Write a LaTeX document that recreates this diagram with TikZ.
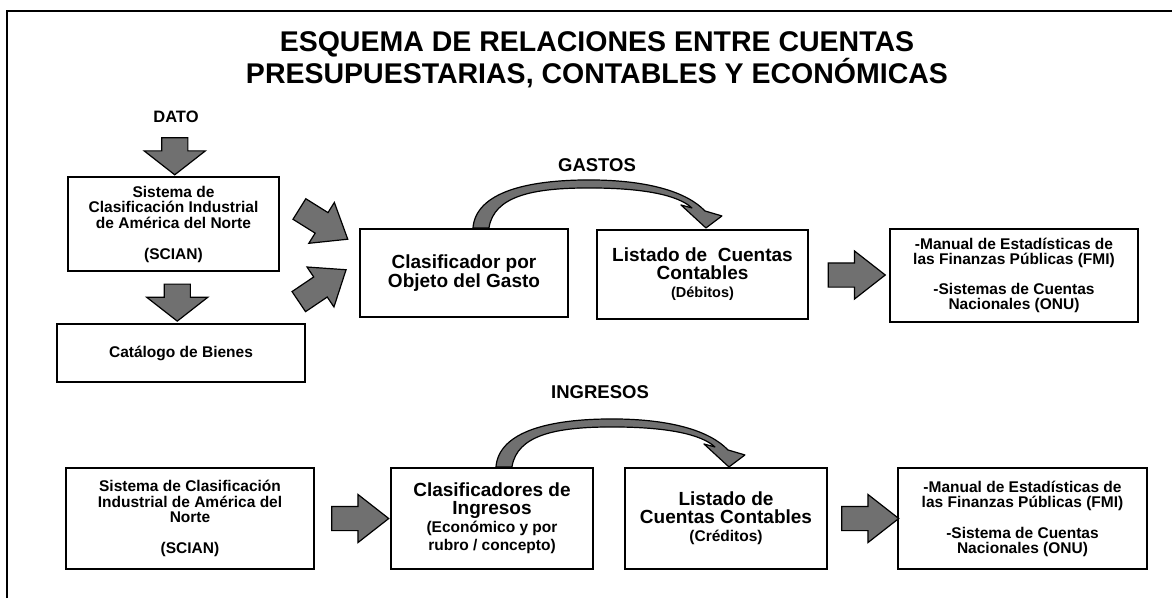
\documentclass[tikz,border=0pt]{standalone}
\usepackage{fontspec}
\setmainfont{Liberation Sans}
\usetikzlibrary{shapes.arrows,calc,positioning}
\definecolor{flechagris}{RGB}{112,112,112}

\newcommand{\letrachica}{\fontsize{15.5}{15.5}\selectfont\bfseries}
\newcommand{\letragrande}{\fontsize{19}{18}\selectfont\bfseries}

\begin{document}
\begin{tikzpicture}[x=1pt,y=-1pt,
    caja/.style={draw,line width=2.1pt,align=center,inner sep=0pt},
    flecha/.style={single arrow,draw,fill=flechagris,line width=1.2pt,
      inner xsep=0pt,inner ysep=11.5pt,
      minimum height=57pt,minimum width=47pt,
      single arrow head extend=12pt,single arrow tip angle=76},
    flechabaja/.style={flecha,rotate=-90,inner ysep=12.5pt,minimum height=37pt,minimum width=60pt,
      single arrow head extend=17.5pt,single arrow tip angle=104},
    curva/.pic={
      \draw[fill=flechagris,line width=1.2pt,line join=round]
        (0,0) .. controls (3,-36) and (55,-48) .. (116,-48)
        .. controls (175,-48) and (214,-36) .. (232,-17)
        -- (249,-12) -- (233,0) -- (208,-23) -- (219,-20)
        .. controls (205,-33) and (170,-40) .. (116,-40)
        .. controls (60,-40) and (21,-32) .. (16,0) -- cycle;
    }]
  \useasboundingbox (0,0) rectangle (1172,598);
  % marco
  \draw[line width=2pt] (7,598) -- (7,11) -- (1172,11);

  % titulo
  \node[align=center,font=\fontsize{28.5}{24}\selectfont\bfseries] (titulo) at (597,60)
    {ESQUEMA DE RELACIONES ENTRE CUENTAS\\PRESUPUESTARIAS, CONTABLES Y ECONÓMICAS};

  % Gastos
  \node[font=\fontsize{16.5}{16.5}\selectfont\bfseries] (dato) at (176,117) {DATO};
  \node[caja,minimum width=211pt,minimum height=94pt,font=\letrachica] (scian1) at (173.5,224)
    {Sistema de\\Clasificación Industrial\\de América del Norte\\[15.5pt](SCIAN)};
  \node[caja,minimum width=248pt,minimum height=58pt,font=\letrachica] (catalogo) at (181,353)
    {Catálogo de Bienes};
  \node[caja,minimum width=208pt,minimum height=88pt,font=\fontsize{19}{17.5}\selectfont\bfseries] (clas1) at (464,273)
    {Clasificador por\\Objeto del Gasto};
  \node[caja,minimum width=211pt,minimum height=89pt,font=\letragrande] (lista1) at (702.5,274.5)
    {Listado de \ Cuentas\\Contables\\\fontsize{14.5}{16}\selectfont(Débitos)};
  \node[caja,minimum width=248pt,minimum height=93pt,font=\fontsize{15.5}{15}\selectfont\bfseries] (fmi1) at (1014,275.5)
    {-Manual de Estadísticas de\\las Finanzas Públicas (FMI)\\[15pt]-Sistemas de Cuentas\\Nacionales (ONU)};
  \node[font=\fontsize{18.5}{18.5}\selectfont\bfseries] (gastos) at (597,165) {GASTOS};

  \node[flechabaja] (f1) at ($(dato.south)!0.5!(scian1.north)$) {};
  \node[flechabaja] (f2) at ($(scian1.south)!0.5!(catalogo.north)$) {};
  \node[flecha,rotate=-32] (f3) at (317,220) {};
  \node[flecha,rotate=34] (f4) at (316,290) {};
  \node[flecha] (f5) at ($(lista1.east)!0.5!(fmi1.west)$) {};
  \coordinate (g0) at ($(clas1.north west)+(114,0)$);
  \pic at (g0) {curva};

  % Ingresos
  \node[font=\fontsize{18.5}{18.5}\selectfont\bfseries] (ingresos) at (600,392) {INGRESOS};
  \node[caja,minimum width=248pt,minimum height=101pt,font=\letrachica] (scian2) at (190,518.5)
    {Sistema de Clasificación\\Industrial de América del\\Norte\\[15.5pt](SCIAN)};
  \node[caja,minimum width=202pt,minimum height=101pt,font=\letragrande] (clas2) at (492,518.5)
    {Clasificadores de\\Ingresos\\\fontsize{15.5}{15}\selectfont(Económico y por\\\fontsize{15.5}{15}\selectfont rubro / concepto)};
  \node[caja,minimum width=202pt,minimum height=101pt,font=\letragrande] (lista2) at (726,518.5)
    {Listado de\\Cuentas Contables\\\fontsize{15.5}{17}\selectfont(Créditos)};
  \node[caja,minimum width=249pt,minimum height=101pt,font=\fontsize{15.5}{15}\selectfont\bfseries] (fmi2) at (1022.5,518.5)
    {-Manual de Estadísticas de\\las Finanzas Públicas (FMI)\\[16pt]-Sistema de Cuentas\\Nacionales (ONU)};

  \node[flecha] (f6) at ($(scian2.east)!0.5!(clas2.west)$) {};
  \node[flecha] (f7) at ($(lista2.east)!0.5!(fmi2.west)$) {};
  \coordinate (g1) at ($(clas2.north west)+(106,0)$);
  \pic at (g1) {curva};
\end{tikzpicture}
\end{document}
